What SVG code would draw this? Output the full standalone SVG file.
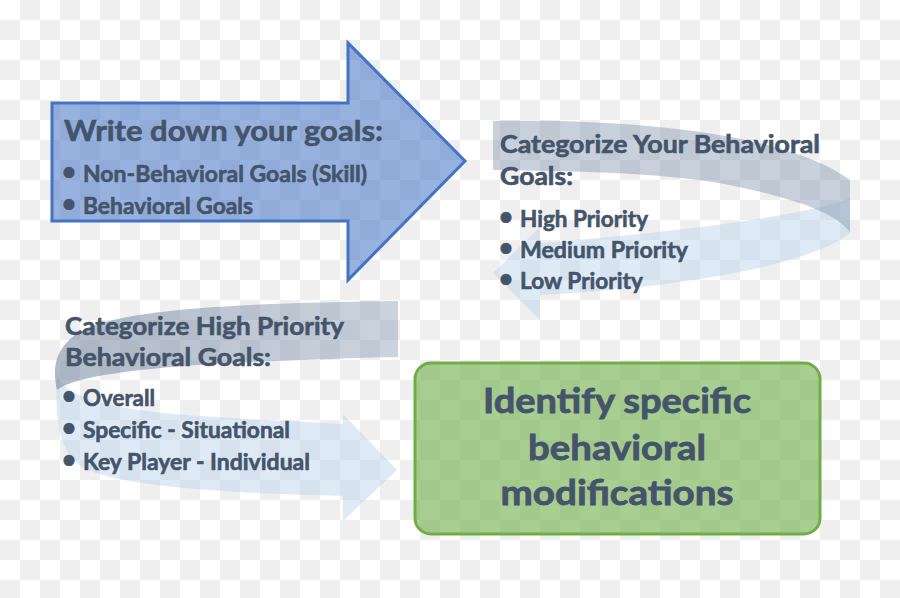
<svg xmlns="http://www.w3.org/2000/svg" width="900" height="598" viewBox="0 0 900 598">
  <defs>
    <pattern id="checker" x="0" y="0" width="40" height="40" patternUnits="userSpaceOnUse">
      <rect x="0" y="0" width="40" height="40" fill="#ffffff"/>
      <rect x="20" y="0" width="20" height="20" fill="#efefef"/>
      <rect x="0" y="20" width="20" height="20" fill="#efefef"/>
    </pattern>
    <linearGradient id="darkBandL" x1="0" y1="0" x2="1" y2="0">
      <stop offset="0" stop-color="#7f90a6" stop-opacity="0.62"/>
      <stop offset="1" stop-color="#8497b0" stop-opacity="0.42"/>
    </linearGradient>
    <style>
      text { font-family: "Lato", "Liberation Sans", sans-serif; font-weight: bold; fill: #44546a; stroke: #44546a; stroke-width: 0.6px; }
      .title { font-size: 29px; }
      .sub { font-size: 25px; }
      .item { font-size: 23px; }
      .big { font-size: 35px; text-anchor: middle; stroke-width: 0.8px; }
      .dot { font-size: 24px; text-anchor: middle; }
      .dark { fill: #8497b0; fill-opacity: 0.45; }
      .light { fill: #bdd7ee; fill-opacity: 0.5; }
    </style>
  </defs>

  <rect x="0" y="0" width="900" height="598" fill="url(#checker)"/>

  <g id="connectors">
    <g id="ribbon-top-right">
      <path class="light" d="M 850,198 C 810,214 700,230 540,243 L 540,227 L 493,273 L 540,320 L 540,295 C 700,286 815,262 850,233 Z"/>
      <path class="dark" d="M 493,121 C 640,118 790,135 850,180 L 850,232 C 835,212 790,196 713,182 C 660,174 600,171 493,170 Z"/>
    </g>
    <g id="ribbon-bottom-left">
      <path class="light" d="M 57,372 C 62,398 110,410 200,416 C 260,420 310,422 343,424 L 343,414 L 397,470 L 343,521 L 343,496 C 250,494 130,488 88,470 C 62,458 54,430 57,372 Z"/>
      <path fill="url(#darkBandL)" d="M 398,301 C 250,303 120,308 80,332 C 55,347 52,368 57,390 C 75,376 140,368 230,363 C 300,360 350,358 398,357 Z"/>
    </g>
  </g>

  <g id="node-write-goals">
    <path d="M 52,103 L 348,103 L 348,43 L 465,161 L 348,280 L 348,221 L 52,221 Z" fill="#4472c4" fill-opacity="0.55" stroke="#4472c4" stroke-width="3" stroke-linejoin="miter"/>
    <text class="title" x="64" y="141" textLength="319" lengthAdjust="spacingAndGlyphs">Write down your goals:</text>
    <text class="dot" x="69" y="180">•</text>
    <text class="item" x="83" y="182" textLength="284" lengthAdjust="spacingAndGlyphs">Non-Behavioral Goals (Skill)</text>
    <text class="dot" x="69" y="212">•</text>
    <text class="item" x="83" y="214" textLength="170" lengthAdjust="spacingAndGlyphs">Behavioral Goals</text>
  </g>

  <g id="node-categorize-behavioral">
    <text class="sub" x="500" y="153" textLength="320" lengthAdjust="spacingAndGlyphs">Categorize Your Behavioral</text>
    <text class="sub" x="500" y="185" textLength="73" lengthAdjust="spacingAndGlyphs">Goals:</text>
    <text class="dot" x="506" y="225">•</text>
    <text class="item" x="520" y="227" textLength="128" lengthAdjust="spacingAndGlyphs">High Priority</text>
    <text class="dot" x="506" y="256">•</text>
    <text class="item" x="520" y="258" textLength="168" lengthAdjust="spacingAndGlyphs">Medium Priority</text>
    <text class="dot" x="506" y="287">•</text>
    <text class="item" x="520" y="289" textLength="123" lengthAdjust="spacingAndGlyphs">Low Priority</text>
  </g>

  <g id="node-categorize-high">
    <text class="sub" x="65" y="335" textLength="279" lengthAdjust="spacingAndGlyphs">Categorize High Priority</text>
    <text class="sub" x="65" y="366" textLength="206" lengthAdjust="spacingAndGlyphs">Behavioral Goals:</text>
    <text class="dot" x="69" y="404">•</text>
    <text class="item" x="83" y="406" textLength="72" lengthAdjust="spacingAndGlyphs">Overall</text>
    <text class="dot" x="69" y="436">•</text>
    <text class="item" x="83" y="438" textLength="207" lengthAdjust="spacingAndGlyphs">Specific - Situational</text>
    <text class="dot" x="69" y="468">•</text>
    <text class="item" x="83" y="470" textLength="227" lengthAdjust="spacingAndGlyphs">Key Player - Individual</text>
  </g>

  <g id="node-identify">
    <rect x="415" y="363" width="405" height="171" rx="16" ry="16" fill="#70ad47" fill-opacity="0.6" stroke="#70ad47" stroke-width="3"/>
    <text class="big" x="617" y="413" textLength="268" lengthAdjust="spacingAndGlyphs">Identify specific</text>
    <text class="big" x="617" y="460" textLength="178" lengthAdjust="spacingAndGlyphs">behavioral</text>
    <text class="big" x="617" y="505" textLength="233" lengthAdjust="spacingAndGlyphs">modifications</text>
  </g>
</svg>
